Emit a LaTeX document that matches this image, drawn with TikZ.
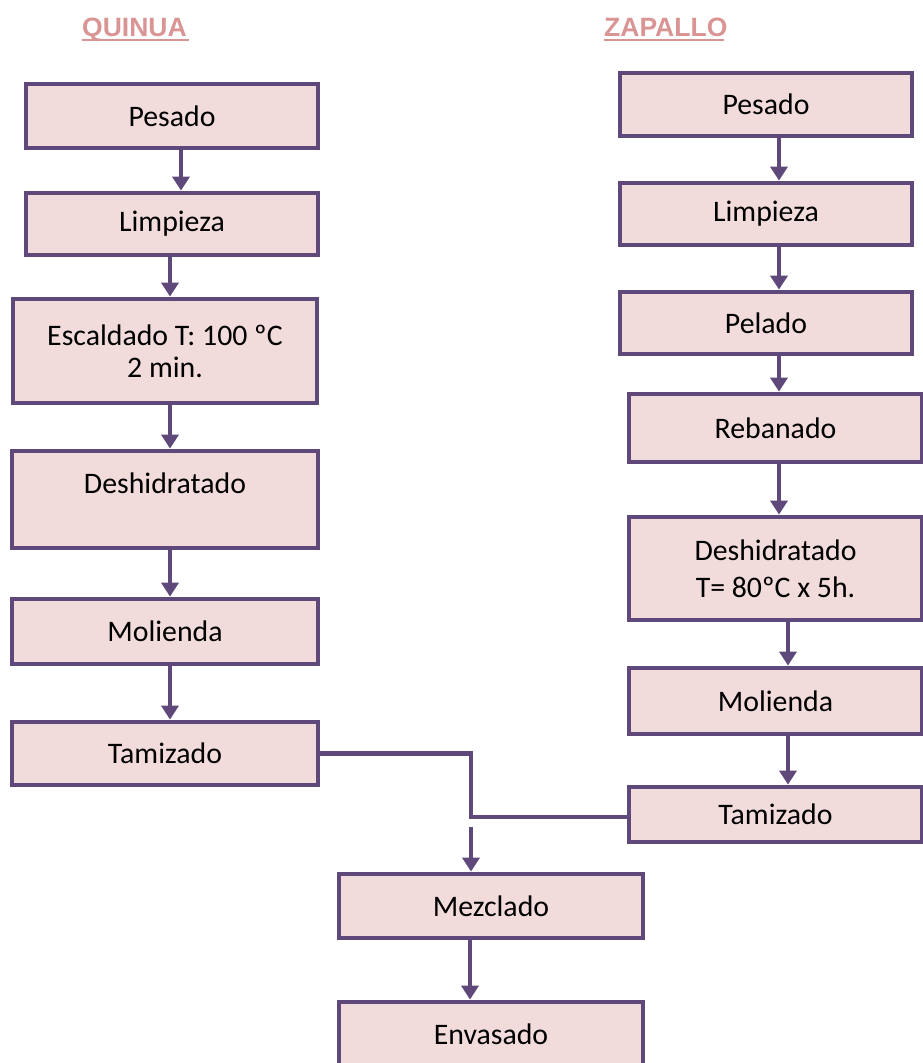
\documentclass[tikz,border=0pt]{standalone}
\usepackage{fontspec}
\setmainfont{Carlito}
\newfontfamily\hdfont{Liberation Sans}
\usetikzlibrary{arrows.meta}
\definecolor{pur}{HTML}{5F497A}
\definecolor{pk}{HTML}{F2DCDB}
\definecolor{hd}{HTML}{D99594}
\tikzset{
  box/.style={draw=pur, fill=pk, line width=4.8pt, align=center, inner sep=0pt,
    font=\fontsize{29.8}{32}\selectfont},
  arr/.style={draw=pur, line width=4.8pt, -{Triangle[width=17pt,length=14pt]}},
  ln/.style={draw=pur, line width=4.8pt},
  head/.style={text=hd, inner sep=0pt, anchor=base west, font=\hdfont\bfseries\fontsize{26.5}{30}\selectfont},
  uline/.style={draw=hd, line width=2.4pt}
}
\begin{document}
\begin{tikzpicture}[x=1pt,y=-1pt]
\useasboundingbox (0,0) rectangle (923,1063);
\clip (0,0) rectangle (923,1063);
% headers
\node[head] (QH) at (82,36) {QUINUA};
\node[head] (ZH) at (604,36) {ZAPALLO};
\draw[uline] ([yshift=-4pt]QH.base west) -- ++(107,0);
\draw[uline] ([yshift=-4pt]ZH.base west) -- ++(120,0);
% left column
\node[box, minimum width=292pt, minimum height=64pt] (L1) at (172,116) {Pesado};
\node[box, minimum width=292pt, minimum height=62pt] (L2) at (172,224) {Limpieza};
\node[box, minimum width=304pt, minimum height=104pt] (L3) at (165,351) {Escaldado T: 100 ºC\\2 min.};
\node[box, minimum width=306pt, minimum height=97pt] (L4) at (165,499.5) {Deshidratado\\\mbox{}};
\node[box, minimum width=306pt, minimum height=65pt] (L5) at (165,631.5) {Molienda};
\node[box, minimum width=306pt, minimum height=63pt] (L6) at (165,753.5) {Tamizado};
% right column
\node[box, minimum width=292pt, minimum height=63pt] (R1) at (766,104.5) {Pesado};
\node[box, minimum width=292pt, minimum height=62pt] (R2) at (766,214) {Limpieza};
\node[box, minimum width=292pt, minimum height=62pt] (R3) at (766,323) {Pelado};
\node[box, minimum width=293pt, minimum height=68pt] (R4) at (775.5,428) {Rebanado};
\node[box, minimum width=293pt, minimum height=103pt] (R5) at (775.5,568.5) {Deshidratado\\[5pt]T= 80ºC x 5h.};
\node[box, minimum width=293pt, minimum height=66pt] (R6) at (775.5,701) {Molienda};
\node[box, minimum width=293pt, minimum height=55pt] (R7) at (775.5,814.5) {Tamizado};
% bottom
\node[box, minimum width=304pt, minimum height=64pt] (M) at (491,906) {Mezclado};
\node[box, minimum width=304pt, minimum height=64pt] (E) at (491,1034) {Envasado};
% left arrows
\draw[arr] ([xshift=9pt]L1.south) -- ([xshift=9pt]L2.north);
\draw[arr] ([xshift=-2pt]L2.south) -- ([xshift=5pt]L3.north);
\draw[arr] ([xshift=5pt]L3.south) -- ([xshift=5pt]L4.north);
\draw[arr] ([xshift=5pt]L4.south) -- ([xshift=5pt]L5.north);
\draw[arr] ([xshift=5pt]L5.south) -- ([xshift=5pt]L6.north);
% right arrows
\draw[arr] ([xshift=13pt]R1.south) -- ([xshift=13pt]R2.north);
\draw[arr] ([xshift=13pt]R2.south) -- ([xshift=13pt]R3.north);
\draw[arr] ([xshift=13pt]R3.south) -- ([xshift=3.5pt]R4.north);
\draw[arr] ([xshift=3.5pt]R4.south) -- ([xshift=3.5pt]R5.north);
\draw[arr] ([xshift=12.5pt]R5.south) -- ([xshift=12.5pt]R6.north);
\draw[arr] ([xshift=12.5pt]R6.south) -- ([xshift=12.5pt]R7.north);
% merge
\coordinate (J) at (471,817);
\draw[ln] (L6.east) -| ([yshift=2.4pt]J);
\draw[ln] (R7.west |- J) -- ([xshift=-2.4pt]J);
\draw[arr] ([yshift=-10pt]J) -- (J |- M.north);
\draw[arr] ([xshift=-21pt]M.south) -- ([xshift=-21pt]E.north);
\end{tikzpicture}
\end{document}
